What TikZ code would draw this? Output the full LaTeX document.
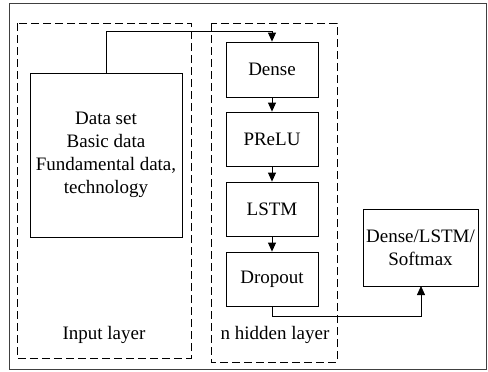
\documentclass[tikz,border=0pt]{standalone}
\usepackage{fontspec}
\setmainfont{Liberation Serif}
\usetikzlibrary{arrows.meta}
\begin{document}
\begin{tikzpicture}[x=1pt,y=-1pt,
  box/.style={draw,line width=0.8pt,rectangle,inner sep=0pt,align=center,font=\fontsize{19pt}{23pt}\selectfont},
  layerbox/.style={draw,line width=0.8pt,dash pattern=on 8pt off 4pt},
  lbl/.style={font=\fontsize{19pt}{23pt}\selectfont,inner sep=0pt},
  conn/.style={line width=0.8pt,-{Triangle[width=8pt,length=9pt]}}]
\useasboundingbox (0,0) rectangle (488,372);
\draw[black!75,line width=0.8pt] (9,3) rectangle (486,369);
\draw[layerbox] (17,23) rectangle (191,358);
\draw[layerbox] (211,23) rectangle (337,362);
\node[box,minimum width=152pt,minimum height=164pt] (data) at (106,155) {Data set\\Basic data\\Fundamental data,\\technology};
\node[box,minimum width=92pt,minimum height=55pt] (dense) at (272,69.5) {Dense};
\node[box,minimum width=92pt,minimum height=54pt] (prelu) at (272,139) {PReLU};
\node[box,minimum width=92pt,minimum height=54pt] (lstm) at (272,209) {LSTM};
\node[box,minimum width=92pt,minimum height=54pt] (drop) at (272,279) {Dropout};
\node[box,minimum width=115pt,minimum height=77pt] (out) at (420.5,247.5) {Dense/LSTM/\\Softmax};
\node[lbl] (inl) at (104,335) {Input layer};
\node[lbl] (hid) at (275,335) {n hidden layer};
\draw[conn] (data.north) |- (272,31) -- (dense.north);
\draw[conn] (dense) -- (prelu);
\draw[conn] (prelu) -- (lstm);
\draw[conn] (lstm) -- (drop);
\draw[conn] (drop.south) |- (421,316) -- (421,286);
\end{tikzpicture}
\end{document}
